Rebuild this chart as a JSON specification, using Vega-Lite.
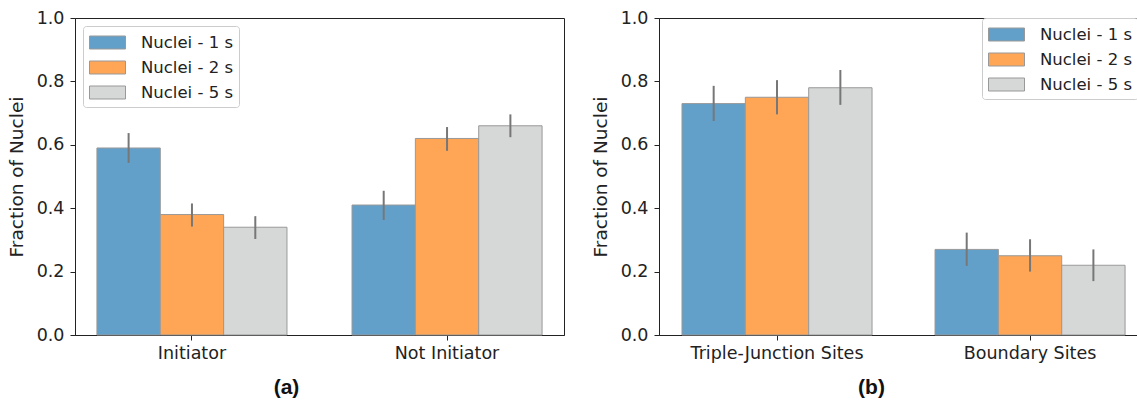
{
  "$schema": "https://vega.github.io/schema/vega-lite/v6.json",
  "padding": {"left": 6, "top": 8, "right": 0, "bottom": 0},
  "background": "white",
  "datasets": {
    "a": [
      {"cat": "Initiator", "series": "Nuclei - 1 s", "value": 0.59, "lo": 0.543, "hi": 0.637},
      {"cat": "Initiator", "series": "Nuclei - 2 s", "value": 0.38, "lo": 0.342, "hi": 0.415},
      {"cat": "Initiator", "series": "Nuclei - 5 s", "value": 0.34, "lo": 0.303, "hi": 0.375},
      {"cat": "Not Initiator", "series": "Nuclei - 1 s", "value": 0.41, "lo": 0.363, "hi": 0.455},
      {"cat": "Not Initiator", "series": "Nuclei - 2 s", "value": 0.62, "lo": 0.581, "hi": 0.656},
      {"cat": "Not Initiator", "series": "Nuclei - 5 s", "value": 0.66, "lo": 0.624, "hi": 0.696}
    ],
    "b": [
      {"cat": "Triple-Junction Sites", "series": "Nuclei - 1 s", "value": 0.73, "lo": 0.675, "hi": 0.786},
      {"cat": "Triple-Junction Sites", "series": "Nuclei - 2 s", "value": 0.75, "lo": 0.696, "hi": 0.804},
      {"cat": "Triple-Junction Sites", "series": "Nuclei - 5 s", "value": 0.78, "lo": 0.726, "hi": 0.836},
      {"cat": "Boundary Sites", "series": "Nuclei - 1 s", "value": 0.27, "lo": 0.218, "hi": 0.323},
      {"cat": "Boundary Sites", "series": "Nuclei - 2 s", "value": 0.25, "lo": 0.2, "hi": 0.302},
      {"cat": "Boundary Sites", "series": "Nuclei - 5 s", "value": 0.22, "lo": 0.17, "hi": 0.27}
    ]
  },
  "config": {
    "view": {"stroke": "#222222", "strokeWidth": 1},
    "font": "DejaVu Sans",
    "axis": {
      "labelFont": "DejaVu Sans",
      "labelFontSize": 17.5,
      "labelColor": "#222222",
      "titleFont": "DejaVu Sans",
      "titleColor": "#222222",
      "domainColor": "#222222",
      "tickColor": "#222222",
      "tickSize": 5,
      "grid": false
    }
  },
  "spacing": 25,
  "resolve": {"legend": {"color": "independent"}},
  "hconcat": [
    {
      "width": 489,
      "height": 317,
      "data": {"name": "a"},
      "encoding": {
        "x": {
          "field": "cat", "type": "nominal", "sort": ["Initiator", "Not Initiator"],
          "scale": {"paddingInner": 0.255, "paddingOuter": 0.086},
          "axis": {"labelAngle": 0, "labelPadding": 4, "title": "(a)", "titleFont": "Liberation Sans", "titleFontWeight": "bold", "titleFontSize": 21, "titleColor": "#111111", "titleX": 211, "titlePadding": 15}
        },
        "xOffset": {"field": "series", "type": "nominal", "sort": ["Nuclei - 1 s", "Nuclei - 2 s", "Nuclei - 5 s"], "scale": {"paddingInner": 0, "paddingOuter": 0}}
      },
      "layer": [
        {
          "mark": {"type": "bar", "stroke": "#999999", "strokeWidth": 1},
          "encoding": {
            "y": {"field": "value", "type": "quantitative", "scale": {"domain": [0, 1]},
              "axis": {"values": [0, 0.2, 0.4, 0.6, 0.8, 1.0], "format": ".1f", "title": "Fraction of Nuclei", "titleFontSize": 18.5, "titleFontWeight": "normal", "titlePadding": 10, "labelPadding": 6}},
            "color": {
              "field": "series", "type": "nominal",
              "scale": {"domain": ["Nuclei - 1 s", "Nuclei - 2 s", "Nuclei - 5 s"], "range": ["#62a0ca", "#ffa556", "#d6d7d7"]},
              "legend": {"orient": "top-left", "offset": 8, "title": null, "symbolType": "M-1,-0.65L2.6,-0.65L2.6,0.65L-1,0.65Z", "symbolSize": 400, "symbolStrokeColor": "#999999", "symbolStrokeWidth": 1, "symbolOpacity": 1, "labelOffset": 31, "labelFontSize": 16.5, "labelFont": "DejaVu Sans", "labelColor": "#222222", "rowPadding": 6, "padding": 6, "strokeColor": "#cccccc", "fillColor": "rgba(255,255,255,0.8)", "cornerRadius": 3, "labelLimit": 300}
            }
          }
        },
        {
          "mark": {"type": "rule", "color": "#777777", "strokeWidth": 2},
          "encoding": {
            "y": {"field": "lo", "type": "quantitative"},
            "y2": {"field": "hi"}
          }
        }
      ]
    },
    {
      "width": 479,
      "height": 317,
      "data": {"name": "b"},
      "encoding": {
        "x": {
          "field": "cat", "type": "nominal", "sort": ["Triple-Junction Sites", "Boundary Sites"],
          "scale": {"paddingInner": 0.249, "paddingOuter": 0.071, "align": 0.64},
          "axis": {"labelAngle": 0, "labelPadding": 4, "title": "(b)", "titleFont": "Liberation Sans", "titleFontWeight": "bold", "titleFontSize": 21, "titleColor": "#111111", "titleX": 212, "titlePadding": 15}
        },
        "xOffset": {"field": "series", "type": "nominal", "sort": ["Nuclei - 1 s", "Nuclei - 2 s", "Nuclei - 5 s"], "scale": {"paddingInner": 0, "paddingOuter": 0}}
      },
      "layer": [
        {
          "mark": {"type": "bar", "stroke": "#999999", "strokeWidth": 1},
          "encoding": {
            "y": {"field": "value", "type": "quantitative", "scale": {"domain": [0, 1]},
              "axis": {"values": [0, 0.2, 0.4, 0.6, 0.8, 1.0], "format": ".1f", "title": "Fraction of Nuclei", "titleFontSize": 18.5, "titleFontWeight": "normal", "titlePadding": 10, "labelPadding": 6}},
            "color": {
              "field": "series", "type": "nominal",
              "scale": {"domain": ["Nuclei - 1 s", "Nuclei - 2 s", "Nuclei - 5 s"], "range": ["#62a0ca", "#ffa556", "#d6d7d7"]},
              "legend": {"orient": "top-right", "offset": 0, "title": null, "symbolType": "M-1,-0.65L2.6,-0.65L2.6,0.65L-1,0.65Z", "symbolSize": 400, "symbolStrokeColor": "#999999", "symbolStrokeWidth": 1, "symbolOpacity": 1, "labelOffset": 31, "labelFontSize": 16.5, "labelFont": "DejaVu Sans", "labelColor": "#222222", "rowPadding": 6, "padding": 6, "strokeColor": "#cccccc", "fillColor": "rgba(255,255,255,0.8)", "cornerRadius": 3, "labelLimit": 300}
            }
          }
        },
        {
          "mark": {"type": "rule", "color": "#777777", "strokeWidth": 2},
          "encoding": {
            "y": {"field": "lo", "type": "quantitative"},
            "y2": {"field": "hi"}
          }
        }
      ]
    }
  ]
}
